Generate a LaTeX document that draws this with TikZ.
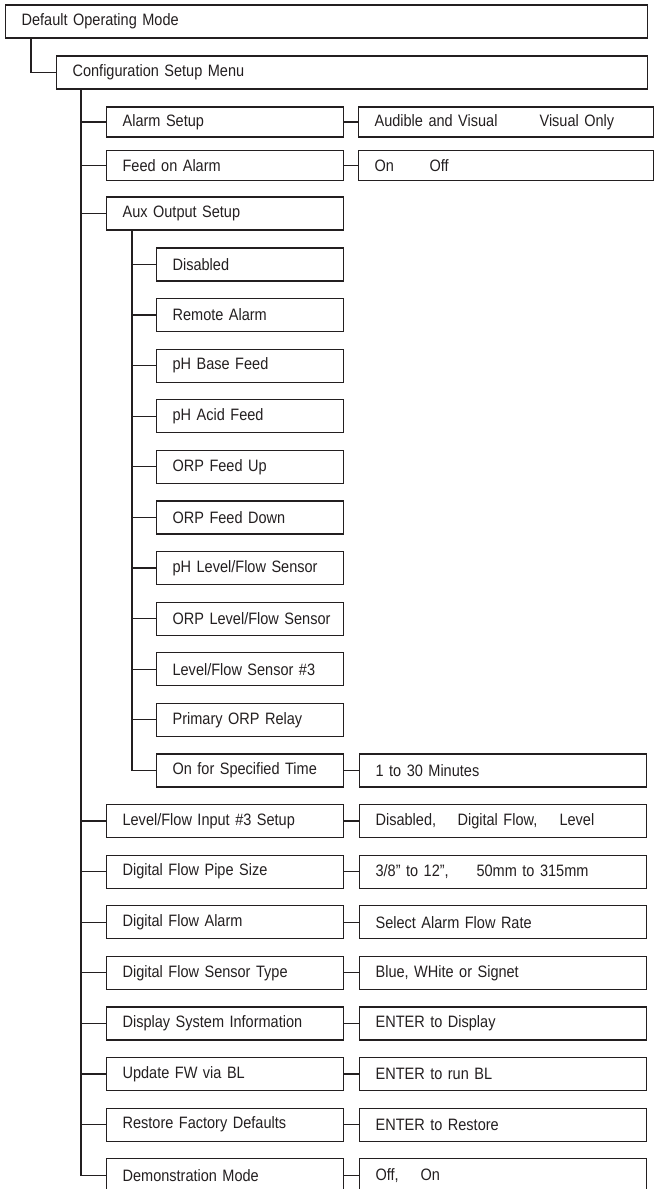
\documentclass[tikz,border=0pt]{standalone}
\usepackage{fontspec}
\setmainfont{Liberation Sans}[FakeStretch=0.88, WordSpace=0.75]
\usetikzlibrary{calc}
\definecolor{menuink}{RGB}{35,31,32}

\begin{document}
\begin{tikzpicture}[x=1pt, y=-1pt]
				\useasboundingbox (0,0) rectangle (654,1189);
				\begin{scope}[color=menuink, line width=1.2pt, every node/.style={draw, rectangle, anchor=west, minimum height=33pt, inner xsep=16pt, inner ysep=0pt, align=left, font=\fontsize{16.5}{19}\selectfont}]
				\node[text width=610pt] (mode) at (5,21.5) {Default Operating Mode};
				\node[text width=559pt] (setup) at (56,72.5) {Configuration Setup Menu};
				
				\node[text width=205pt, minimum height=30pt] (alarm) at (106,122) {Alarm Setup};
				\node[text width=263pt, minimum height=30pt] (alarm') at (358,122) {\makebox[165pt][l]{Audible and Visual}Visual Only};
				\node[text width=205pt, minimum height=30pt] (feed) at (106,165.5) {Feed on Alarm};
				\node[text width=263pt, minimum height=30pt] (feed') at (358,165.5) {\makebox[55pt][l]{On}Off};
				\node[text width=205pt] (aux) at (106,213.5) {Aux Output Setup};
				
				\node[text width=155pt] (disabled) at (156,264.4) {Disabled};
				\node[text width=155pt] (remote) at (156,315) {Remote Alarm};
				\node[text width=155pt] (base) at (156,365.6) {pH Base Feed};
				\node[text width=155pt] (acid) at (156,416.2) {pH Acid Feed};
				\node[text width=155pt] (orpup) at (156,466.8) {ORP Feed Up};
				\node[text width=155pt] (orpdown) at (156,517.4) {ORP Feed Down};
				\node[text width=155pt] (phlevel) at (156,568) {pH Level/Flow Sensor};
				\node[text width=155pt] (orplevel) at (156,618.6) {\mbox{ORP Level/Flow Sensor}};
				\node[text width=155pt] (level3) at (156,669.2) {Level/Flow Sensor \#3};
				\node[text width=155pt] (primary) at (156,719.8) {Primary ORP Relay};
				\node[text width=155pt] (timed) at (156,770.4) {On for Specified Time};
				\node[text width=255pt] (timed') at (359,770.4) {1 to 30 Minutes};
				
				\node[text width=205pt] (input) at (106,821) {Level/Flow Input \#3 Setup};
				\node[text width=255pt] (input') at (359,821) {\makebox[82pt][l]{Disabled,}\makebox[102pt][l]{Digital Flow,}Level};
				\node[text width=205pt] (pipe) at (106,871.6) {Digital Flow Pipe Size};
				\node[text width=255pt] (pipe') at (359,871.6) {\makebox[101pt][l]{3/8" to 12",}50mm to 315mm};
				\node[text width=205pt] (flowalarm) at (106,922.2) {Digital Flow Alarm};
				\node[text width=255pt] (flowalarm') at (359,922.2) {Select Alarm Flow Rate};
				\node[text width=205pt] (sensor) at (106,972.8) {Digital Flow Sensor Type};
				\node[text width=255pt] (sensor') at (359,972.8) {Blue, WHite or Signet};
				\node[text width=205pt] (info) at (106,1023.4) {Display System Information};
				\node[text width=255pt] (info') at (359,1023.4) {ENTER to Display};
				\node[text width=205pt] (update) at (106,1074) {Update FW via BL};
				\node[text width=255pt] (update') at (359,1074) {ENTER to run BL};
				\node[text width=205pt] (restore) at (106,1124.6) {Restore Factory Defaults};
				\node[text width=255pt] (restore') at (359,1124.6) {ENTER to Restore};
				\node[text width=205pt] (demo) at (106,1175.2) {Demonstration Mode};
				\node[text width=255pt] (demo') at (359,1175.2) {\makebox[45pt][l]{Off,}On};
				
				\coordinate (trunk) at ([xshift=25pt]setup.south west);
				\coordinate (branch) at ([xshift=26pt]aux.south west);
				
				\draw[-] ([xshift=26pt]mode.south west) |- (setup.west);
				\draw[-, line width=1.4pt] (trunk) |- (demo.west);
				\draw[-, line width=1.3pt] (branch) |- (timed.west);
				
				\draw[-] (trunk |- alarm.west) -- (alarm.west);
				\draw[-] (trunk |- feed.west) -- (feed.west);
				\draw[-] (trunk |- aux.west) -- (aux.west);
				\draw[-] (trunk |- input.west) -- (input.west);
				\draw[-] (trunk |- pipe.west) -- (pipe.west);
				\draw[-] (trunk |- flowalarm.west) -- (flowalarm.west);
				\draw[-] (trunk |- sensor.west) -- (sensor.west);
				\draw[-] (trunk |- info.west) -- (info.west);
				\draw[-] (trunk |- update.west) -- (update.west);
				\draw[-] (trunk |- restore.west) -- (restore.west);
				
				\draw[-] (branch |- disabled.west) -- (disabled.west);
				\draw[-] (branch |- remote.west) -- (remote.west);
				\draw[-] (branch |- base.west) -- (base.west);
				\draw[-] (branch |- acid.west) -- (acid.west);
				\draw[-] (branch |- orpup.west) -- (orpup.west);
				\draw[-] (branch |- orpdown.west) -- (orpdown.west);
				\draw[-] (branch |- phlevel.west) -- (phlevel.west);
				\draw[-] (branch |- orplevel.west) -- (orplevel.west);
				\draw[-] (branch |- level3.west) -- (level3.west);
				\draw[-] (branch |- primary.west) -- (primary.west);
				
				\draw[-] (alarm.east) -- (alarm'.west);
				\draw[-] (feed.east) -- (feed'.west);
				\draw[-] (timed.east) -- (timed'.west);
				\draw[-] (input.east) -- (input'.west);
				\draw[-] (pipe.east) -- (pipe'.west);
				\draw[-] (flowalarm.east) -- (flowalarm'.west);
				\draw[-] (sensor.east) -- (sensor'.west);
				\draw[-] (info.east) -- (info'.west);
				\draw[-] (update.east) -- (update'.west);
				\draw[-] (restore.east) -- (restore'.west);
				\draw[-] (demo.east) -- (demo'.west);
				\end{scope}
\end{tikzpicture}
\end{document}
